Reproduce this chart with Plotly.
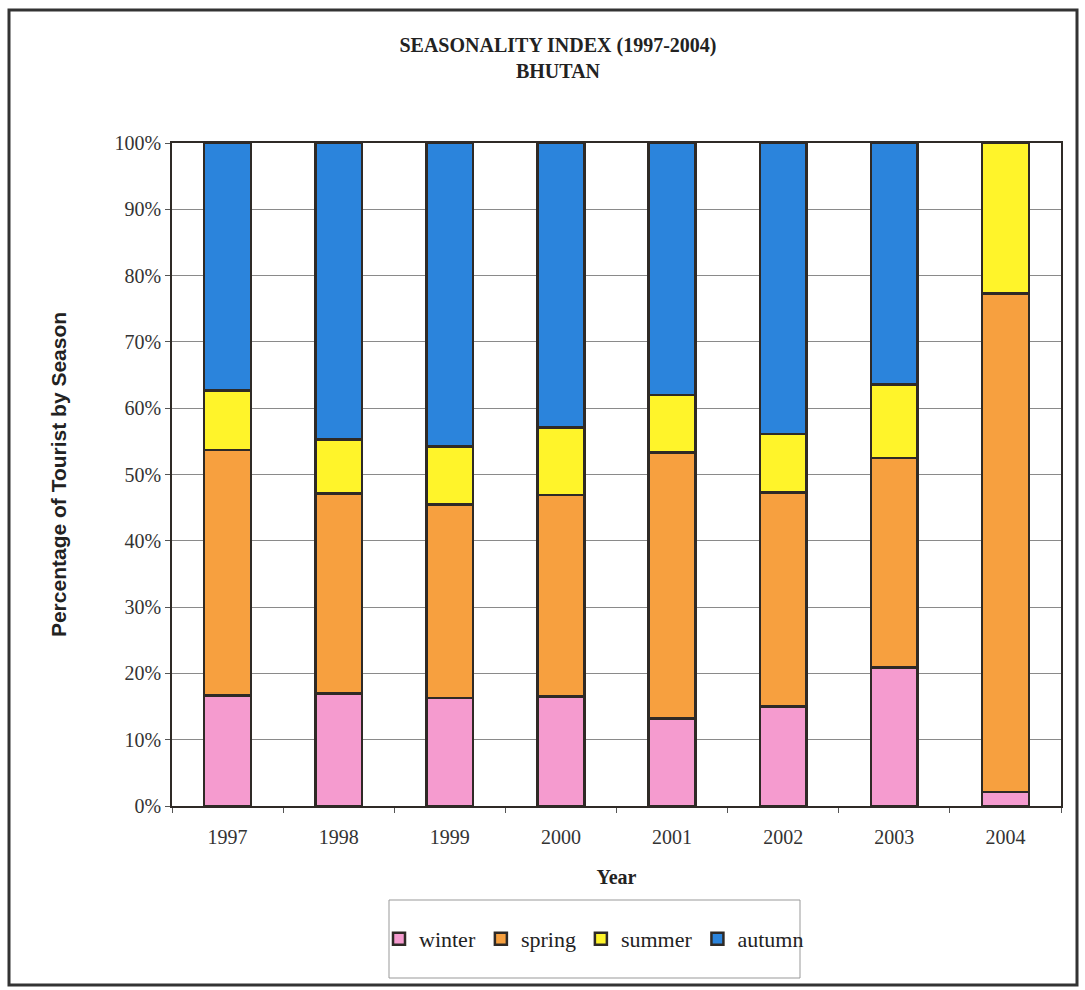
import plotly.graph_objects as go

# Share of tourist arrivals by season (percent of annual total)
years = ["1997", "1998", "1999", "2000", "2001", "2002", "2003", "2004"]
winter = [16.7, 17.0, 16.3, 16.5, 13.2, 15.0, 20.9, 2.1]
spring = [37.0, 30.1, 29.2, 30.4, 40.1, 32.3, 31.6, 75.2]
summer = [9.0, 8.2, 8.7, 10.2, 8.7, 8.8, 11.1, 22.7]
autumn = [37.3, 44.7, 45.8, 42.9, 38.0, 43.9, 36.4, 0.0]

series = [
    ("winter", winter, "#F59BCF"),
    ("spring", spring, "#F7A03F"),
    ("summer", summer, "#FFF42A"),
    ("autumn", autumn, "#2B84DC"),
]

serif = "Liberation Serif, Times New Roman, serif"
sans = "Liberation Sans, Arial, sans-serif"

fig = go.Figure()
for name, vals, color in series:
    fig.add_trace(go.Bar(
        x=years, y=vals, name=name,
        marker=dict(color=color, line=dict(color="#2f2a26", width=2.5)),
    ))

W, H = 1085, 990
L, R, T, B = 172, 24, 143, 184
pw, ph = W - L - R, H - T - B

def px(xp):
    return (xp - L) / pw

def py(yp):
    return (H - B - yp) / ph

fig.update_layout(
    width=W, height=H,
    margin=dict(l=L, r=R, t=T, b=B),
    barmode="stack",
    bargap=0.58,
    paper_bgcolor="white",
    plot_bgcolor="white",
    title=dict(
        text="<b>SEASONALITY INDEX (1997-2004)<br>BHUTAN</b>",
        x=px(558), xanchor="center", xref="paper", y=1 - 52 / H, yanchor="top",
        font=dict(family=serif, size=20, color="#222"),
    ),
    xaxis=dict(
        title=dict(text="<b>Year</b>", font=dict(family=serif, size=20, color="#222"), standoff=23),
        tickfont=dict(family=serif, size=20, color="#333"),
        ticklabelstandoff=12,
        showline=True, linecolor="#2f2a26", linewidth=1.5, mirror=True,
        ticks="outside", tickson="boundaries", ticklen=5, tickcolor="#555",
        showgrid=False,
    ),
    yaxis=dict(
        title=dict(text="<b>Percentage of Tourist by Season</b>",
                   font=dict(family=sans, size=21, color="#222"), standoff=42),
        tickfont=dict(family=serif, size=20, color="#333"),
        range=[0, 100], dtick=10, ticksuffix="%",
        showline=True, linecolor="#2f2a26", linewidth=1.5, mirror=True,
        ticks="outside", ticklen=5, tickcolor="#555",
        showgrid=True, gridcolor="#8a8a8a", gridwidth=1,
    ),
    legend=dict(
        orientation="h", x=px(594), xanchor="center", y=py(918), yanchor="top",
        font=dict(family=serif, size=22, color="#222"),
        bgcolor="rgba(0,0,0,0)", itemwidth=30, traceorder="normal",
    ),
    shapes=[
        # legend frame
        dict(type="rect", xref="paper", yref="paper",
             x0=px(389), x1=px(800), y0=py(978), y1=py(900),
             line=dict(color="#999", width=1), layer="below"),
        # outer chart frame
        dict(type="rect", xref="paper", yref="paper",
             x0=px(9), x1=px(1077), y0=py(985), y1=py(10),
             line=dict(color="#333", width=3), layer="below"),
    ],
)

fig.write_html("out.html")
